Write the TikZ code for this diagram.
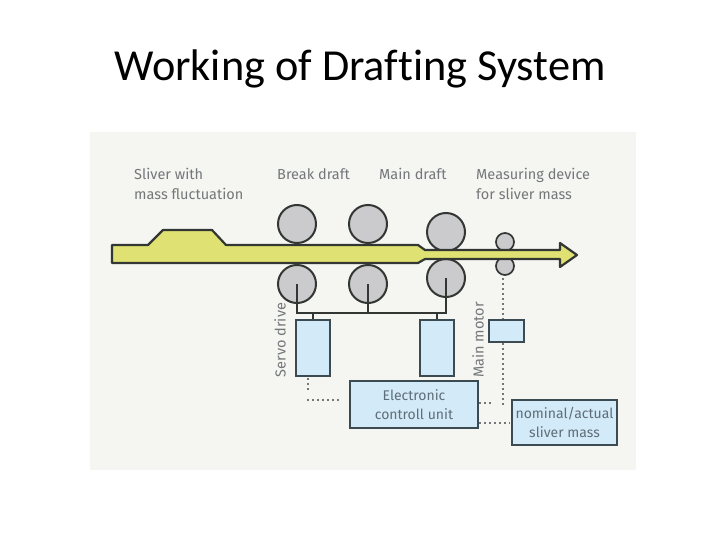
\documentclass[tikz,border=0pt]{standalone}
\usepackage{fontspec}
\setmainfont{Fira Sans}
\newfontfamily\titlefont[Ligatures=NoCommon]{Carlito}
\usepackage{xcolor}
\usetikzlibrary{positioning,calc}
\definecolor{panelgray}{HTML}{F5F5F1}
\definecolor{slivergreen}{HTML}{DFE172}
\definecolor{rollergray}{HTML}{CBCBCD}
\definecolor{unitblue}{HTML}{D3EAF8}
\definecolor{edgedark}{HTML}{333733}
\definecolor{boxedge}{HTML}{3C4A52}
\definecolor{labelgray}{HTML}{74777A}
\definecolor{unittext}{HTML}{5F6E78}
\tikzset{
    roller/.style={
        circle,
        draw=edgedark,
        fill=rollergray,
        line width=2pt,
        inner sep=0pt,
        minimum size=38pt
    },
    sensor/.style={
        roller,
        line width=1.7pt,
        minimum size=18pt
    },
    unit/.style={
        rectangle,
        draw=boxedge,
        fill=unitblue,
        line width=2.2pt,
        align=center,
        inner sep=0pt,
        text=unittext,
        font=\fontsize{14}{19}\selectfont
    },
    caption/.style={
        anchor=west,
        align=left,
        inner sep=0pt,
        text=labelgray,
        font=\fontsize{14.5}{20}\selectfont
    },
    sidelabel/.style={
        rotate=90,
        inner sep=0pt,
        text=labelgray,
        font=\fontsize{14.5}{16}\selectfont
    },
    shaft/.style={draw=edgedark, line width=2.2pt},
    signal/.style={draw=labelgray, line width=1.5pt, dash pattern=on 2pt off 3pt}
}

\begin{document}
\begin{tikzpicture}[x=1pt, y=-1pt]
    \useasboundingbox (0,0) rectangle (720,540);
    \fill [panelgray] (90,132) rectangle (636,470);
    \node (title) at (360,69) {\titlefont\fontsize{44.3}{52}\selectfont Working of Drafting System};

    \node (sliverlabel) [caption] at (134,184) {Sliver with\\mass fluctuation};
    \node (breaklabel) [caption] at (277,174) {Break draft};
    \node (mainlabel) [caption] at (379,174) {Main draft};
    \node (measurelabel) [caption] at (476,184) {Measuring device\\for sliver mass};

    % sliver runs under the rollers' edges
    \node (breaktop) [roller] at (297,224) {};
    \node (breakbottom) [roller] at (297,284) {};
    \node (middletop) [roller, right=31pt of breaktop] {};
    \node (middlebottom) [roller, right=31pt of breakbottom] {};
    \node (maintop) [roller] at (446,232) {};
    \node (mainbottom) [roller] at (446,278) {};
    \node (sensortop) [sensor] at (505,242) {};
    \node (sensorbottom) [sensor] at (505,266) {};

    \draw [draw=edgedark, line width=2.2pt, fill=slivergreen, line join=round]
        (112,245) -- (148,245) -- (163,230) -- (212,230) -- (226,245) -- (418,245)
        -- (425,250) -- (560,250) -- (560,243) -- (577,255) -- (560,267)
        -- (560,259) -- (425,259) -- (418,263) -- (112,263) -- cycle;

    \node (servoleft) [unit, minimum width=34pt, minimum height=56pt] at (313,348) {};
    \node (servoright) [unit, minimum width=34pt, minimum height=56pt] at (437,348) {};
    \node (motor) [unit, minimum width=35pt, minimum height=22pt] at (506.5,331) {};
    \node (control) [unit, minimum width=128pt, minimum height=47pt] at (414,404.5) {Electronic\\controll unit};
    \node (nominal) [unit, minimum width=105pt, minimum height=45pt] at (564.5,422.5) {nominal/actual\\sliver mass};

    \node (servolabel) [sidelabel] at (280,340) {Servo drive};
    \node (motorlabel) [sidelabel] at (478,340) {Main motor};

    \coordinate (busleft) at (297,313);
    \coordinate (busright) at (446,313);
    \draw [shaft] (breakbottom.center) -- (busleft) -- (busright) -- (mainbottom.center);
    \draw [shaft, line width=1.3pt] (middlebottom.center) -- (middlebottom |- busleft);
    \draw [shaft, line width=1.3pt] (servoleft.north) -- (servoleft |- busleft);
    \draw [shaft, line width=1.3pt] (servoright.north) -- (servoright |- busleft);

    \coordinate (servotail) at (308,378);
    \coordinate (servoend) at (308,390);
    \coordinate (feedstart) at (307,400);
    \coordinate (feedend) at (340,400);
    \coordinate (sensortail) at (503,278);
    \coordinate (motordrop) at (503,405);
    \coordinate (controlstub) at (494,403);
    \coordinate (nominalstub) at (510,423);
    \draw [signal] (servotail) -- (servoend);
    \draw [signal] (feedstart) -- (feedend);
    \draw [signal] (sensortail) -- (motor.north -| sensortail);
    \draw [signal] (motor.south -| motordrop) -- (motordrop);
    \draw [signal] (control.east |- controlstub) -- (controlstub);
    \draw [signal] (control.east |- nominalstub) -- (nominalstub);
\end{tikzpicture}
\end{document}
